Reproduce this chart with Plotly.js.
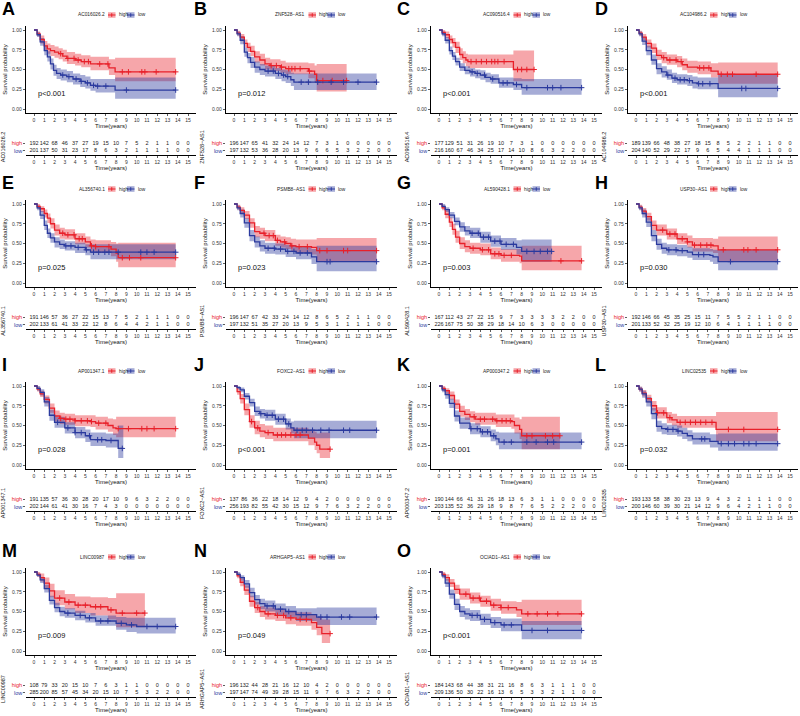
<!DOCTYPE html>
<html><head><meta charset="utf-8">
<script src="https://cdn.plot.ly/plotly-3.0.1.min.js"></script>
<style>html,body{margin:0;padding:0;background:#fff}#chart{width:800px;height:716px}</style>
</head><body><div id="chart"></div>
<script>
// ---------------- DATA ----------------
var panelIds = ['A','B','C','D','E','F','G','H','I','J','K','L','M','N','O'];
var genes = ['AC016026.2','ZNF528\u2212AS1','AC090516.4','AC104986.2','AL356740.1','PSMB8\u2212AS1','AL590428.1','USP30\u2212AS1','AP001347.1','FOXC2\u2212AS1','AP000347.2','LINC02535','LINC00987','ARHGAP5\u2212AS1','OCIAD1\u2212AS1'];
var pvals = ['p<0.001','p=0.012','p<0.001','p<0.001','p=0.025','p=0.023','p=0.003','p=0.030','p=0.028','p<0.001','p=0.001','p=0.032','p=0.009','p=0.049','p<0.001'];
var groups = ['high','low'];
var timeTicks = [0,1,2,3,4,5,6,7,8,9,10,11,12,13,14,15];
var survTicks = [0,0.25,0.5,0.75,1];
var survTickText = ['0.00','0.25','0.50','0.75','1.00'];

// A
var A_high_t=[0,0.3,0.6,1.0,1.3,1.6,2.0,2.4,2.8,3.2,4.0,4.6,5.5,7.3,7.9,13.8];
var A_high_s=[1,0.95,0.88,0.80,0.76,0.74,0.72,0.70,0.67,0.64,0.62,0.60,0.57,0.52,0.47,0.47];
var A_high_lo=[1,0.92,0.83,0.74,0.70,0.67,0.65,0.63,0.60,0.57,0.55,0.53,0.49,0.43,0.35,0.35];
var A_high_up=[1,0.98,0.93,0.86,0.83,0.81,0.79,0.77,0.75,0.72,0.70,0.68,0.66,0.63,0.65,0.65];
var A_high_cens=[2.6,3.3,3.9,4.3,4.9,5.3,6.4,7.2,8.6,9.2,10.5,10.8,11.9,13.8];
var A_low_t=[0,0.3,0.6,1.0,1.3,1.6,1.9,2.2,2.6,3.2,3.8,4.5,5.0,5.5,6.0,7.9,13.8];
var A_low_s=[1,0.94,0.85,0.74,0.66,0.57,0.49,0.45,0.43,0.41,0.38,0.35,0.33,0.30,0.29,0.24,0.24];
var A_low_lo=[1,0.91,0.80,0.68,0.60,0.50,0.42,0.38,0.36,0.34,0.31,0.28,0.26,0.23,0.21,0.13,0.13];
var A_low_up=[1,0.97,0.90,0.80,0.73,0.64,0.56,0.52,0.50,0.48,0.45,0.43,0.41,0.38,0.38,0.40,0.40];
var A_low_cens=[2.8,3.4,4.1,4.6,5.2,5.8,6.2,7.0,9.0,13.8];
var A_high_n=[192,142,68,46,37,27,19,15,10,7,5,2,1,1,0,0];
var A_low_n=[201,137,50,31,23,17,8,6,3,2,1,1,1,1,0,0];
// B
var B_high_t=[0,0.3,0.6,1.0,1.3,1.6,2.0,2.5,3.0,3.5,4.5,5.0,7.2,7.8,8.0,10.9];
var B_high_s=[1,0.96,0.91,0.83,0.78,0.73,0.66,0.62,0.57,0.55,0.53,0.51,0.48,0.44,0.36,0.36];
var B_high_lo=[1,0.93,0.87,0.78,0.72,0.67,0.59,0.55,0.50,0.48,0.46,0.44,0.39,0.34,0.22,0.22];
var B_high_up=[1,0.99,0.95,0.88,0.84,0.80,0.73,0.70,0.65,0.63,0.61,0.59,0.58,0.55,0.57,0.57];
var B_high_cens=[3.6,4.1,4.6,5.3,5.6,5.9,6.4,7.3,8.6,9.5,10.9];
var B_low_t=[0,0.3,0.6,1.0,1.3,1.6,2.0,2.5,3.0,4.0,4.6,5.0,5.5,5.8,13.8];
var B_low_s=[1,0.95,0.87,0.72,0.65,0.59,0.53,0.50,0.48,0.45,0.43,0.41,0.37,0.34,0.34];
var B_low_lo=[1,0.92,0.82,0.66,0.58,0.52,0.46,0.43,0.41,0.38,0.35,0.33,0.29,0.24,0.24];
var B_low_up=[1,0.98,0.92,0.78,0.71,0.66,0.60,0.57,0.55,0.52,0.50,0.49,0.46,0.45,0.45];
var B_low_cens=[3.3,3.8,4.3,4.8,5.2,6.5,7.2,8.1,9.4,10.6,12.0,13.8];
var B_high_n=[196,147,65,41,32,24,14,12,7,3,1,0,0,0,0,0];
var B_low_n=[197,132,53,36,28,20,13,9,6,6,5,3,2,2,0,0];
// C
var C_high_t=[0,0.3,0.6,1.0,1.3,1.6,2.0,2.3,2.6,2.8,7.2,9.2];
var C_high_s=[1,0.97,0.94,0.88,0.84,0.78,0.69,0.65,0.62,0.60,0.50,0.50];
var C_high_lo=[1,0.94,0.90,0.83,0.78,0.71,0.62,0.58,0.54,0.52,0.35,0.35];
var C_high_up=[1,1.0,0.98,0.93,0.90,0.85,0.77,0.73,0.70,0.69,0.74,0.74];
var C_high_cens=[3.1,3.6,4.1,4.6,5.1,5.4,5.7,6.3,7.6,8.0,8.5,9.2];
var C_low_t=[0,0.3,0.6,1.0,1.3,1.6,2.0,2.5,3.0,3.5,4.0,4.5,5.0,5.8,7.2,8.0,13.8];
var C_low_s=[1,0.95,0.87,0.74,0.67,0.60,0.53,0.49,0.47,0.45,0.43,0.40,0.38,0.33,0.31,0.27,0.27];
var C_low_lo=[1,0.92,0.83,0.69,0.62,0.55,0.48,0.44,0.41,0.39,0.37,0.34,0.32,0.27,0.24,0.18,0.18];
var C_low_up=[1,0.98,0.91,0.79,0.72,0.65,0.58,0.54,0.52,0.50,0.49,0.46,0.44,0.40,0.39,0.38,0.38];
var C_low_cens=[3.2,3.7,4.4,5.2,6.2,6.6,7.5,8.5,10.5,11.0,11.8,13.8];
var C_high_n=[177,129,51,31,26,19,10,7,3,1,0,0,0,0,0,0];
var C_low_n=[216,160,67,46,34,25,17,14,10,8,6,3,2,2,0,0];
// D
var D_high_t=[0,0.3,0.6,1.0,1.5,2.0,2.5,3.0,4.0,4.5,5.0,6.0,7.3,8.0,13.8];
var D_high_s=[1,0.96,0.91,0.83,0.77,0.68,0.65,0.62,0.60,0.56,0.53,0.52,0.48,0.44,0.44];
var D_high_lo=[1,0.93,0.87,0.78,0.71,0.62,0.58,0.56,0.53,0.49,0.46,0.44,0.40,0.32,0.32];
var D_high_up=[1,0.99,0.95,0.88,0.83,0.75,0.72,0.69,0.67,0.64,0.61,0.60,0.58,0.59,0.59];
var D_high_cens=[2.7,3.3,3.9,4.4,6.2,6.6,7.1,8.3,8.9,9.4,11.7,13.8];
var D_low_t=[0,0.3,0.6,1.0,1.5,2.0,2.5,3.0,3.5,4.0,5.0,5.5,6.0,8.0,13.8];
var D_low_s=[1,0.95,0.86,0.74,0.62,0.51,0.47,0.43,0.39,0.37,0.36,0.33,0.32,0.26,0.26];
var D_low_lo=[1,0.92,0.81,0.68,0.56,0.44,0.40,0.37,0.33,0.31,0.29,0.26,0.25,0.15,0.15];
var D_low_up=[1,0.98,0.91,0.80,0.69,0.58,0.54,0.50,0.46,0.44,0.43,0.41,0.40,0.43,0.43];
var D_low_cens=[3.1,3.8,4.3,4.7,5.2,6.1,6.5,7.2,10.3,10.7,13.8];
var D_high_n=[189,139,66,48,38,27,18,15,8,5,2,2,1,1,0,0];
var D_low_n=[204,140,52,29,22,17,9,6,5,4,4,1,1,1,0,0];
// E
var E_high_t=[0,0.3,0.6,1.0,1.3,1.6,2.0,2.5,3.0,4.0,5.0,5.5,6.0,7.5,8.0,8.2,13.8];
var E_high_s=[1,0.97,0.94,0.88,0.82,0.75,0.67,0.63,0.61,0.56,0.52,0.47,0.46,0.43,0.38,0.32,0.32];
var E_high_lo=[1,0.94,0.90,0.83,0.76,0.69,0.60,0.56,0.55,0.49,0.45,0.40,0.38,0.34,0.27,0.20,0.20];
var E_high_up=[1,1.0,0.97,0.93,0.88,0.82,0.74,0.70,0.68,0.63,0.59,0.55,0.54,0.52,0.50,0.51,0.51];
var E_high_cens=[2.8,3.3,3.9,4.4,4.7,5.6,6.0,7.3,8.6,9.3,10.4,13.8];
var E_low_t=[0,0.3,0.6,1.0,1.3,1.6,2.0,2.5,3.0,4.0,5.0,5.5,13.8];
var E_low_s=[1,0.95,0.86,0.73,0.63,0.57,0.52,0.49,0.47,0.45,0.42,0.39,0.39];
var E_low_lo=[1,0.92,0.81,0.67,0.57,0.51,0.45,0.43,0.41,0.38,0.35,0.30,0.30];
var E_low_up=[1,0.98,0.91,0.79,0.69,0.63,0.58,0.55,0.53,0.51,0.49,0.49,0.49];
var E_low_cens=[3.1,3.6,4.3,5.1,5.8,6.3,6.9,7.3,8.2,10.4,11.0,11.7,13.8];
var E_high_n=[191,146,57,36,27,22,15,13,7,5,2,1,1,1,0,0];
var E_low_n=[202,133,61,41,33,22,12,8,6,4,4,2,1,1,0,0];
// F
var F_high_t=[0,0.3,0.6,1.0,1.5,2.0,2.5,3.0,4.0,4.5,5.0,5.5,6.0,7.5,8.0,13.8];
var F_high_s=[1,0.96,0.92,0.86,0.76,0.65,0.63,0.60,0.54,0.52,0.50,0.47,0.46,0.45,0.41,0.41];
var F_high_lo=[1,0.93,0.88,0.81,0.70,0.58,0.56,0.53,0.47,0.45,0.43,0.40,0.38,0.36,0.28,0.28];
var F_high_up=[1,0.99,0.96,0.91,0.82,0.72,0.70,0.67,0.61,0.59,0.58,0.56,0.55,0.55,0.57,0.57];
var F_high_cens=[2.9,3.4,3.8,4.2,4.9,5.6,6.3,7.1,8.3,9.0,10.6,11.0,13.8];
var F_low_t=[0,0.3,0.6,1.0,1.5,2.0,2.5,3.0,4.0,5.0,6.0,7.5,8.0,13.8];
var F_low_s=[1,0.95,0.88,0.76,0.60,0.52,0.47,0.44,0.43,0.40,0.38,0.33,0.27,0.27];
var F_low_lo=[1,0.92,0.83,0.70,0.53,0.45,0.40,0.37,0.36,0.33,0.30,0.24,0.15,0.15];
var F_low_up=[1,0.98,0.93,0.82,0.67,0.59,0.54,0.51,0.50,0.48,0.46,0.43,0.47,0.47];
var F_low_cens=[3.3,3.9,4.5,5.2,5.8,6.4,7.1,9.0,9.3,13.8];
var F_high_n=[196,147,67,42,33,24,14,12,8,6,5,2,1,1,0,0];
var F_low_n=[197,132,51,35,27,20,13,9,5,3,1,1,1,1,0,0];
// G
var G_high_t=[0,0.3,0.6,1.0,1.3,1.6,2.0,2.5,3.0,4.0,5.0,6.0,7.8,8.0,13.8];
var G_high_s=[1,0.95,0.87,0.77,0.68,0.58,0.50,0.46,0.44,0.42,0.37,0.35,0.34,0.28,0.28];
var G_high_lo=[1,0.92,0.82,0.71,0.61,0.51,0.43,0.39,0.37,0.35,0.30,0.27,0.25,0.16,0.16];
var G_high_up=[1,0.98,0.92,0.83,0.75,0.66,0.58,0.54,0.51,0.50,0.45,0.43,0.43,0.47,0.47];
var G_high_cens=[3.3,4.2,4.8,5.4,5.8,6.3,7.0,11.8,13.8];
var G_low_t=[0,0.3,0.6,1.0,1.5,2.0,2.5,3.0,4.0,5.0,6.0,7.5,8.0,10.9];
var G_low_s=[1,0.97,0.93,0.86,0.78,0.71,0.66,0.63,0.58,0.53,0.49,0.45,0.40,0.40];
var G_low_lo=[1,0.95,0.90,0.82,0.73,0.65,0.60,0.57,0.51,0.46,0.42,0.36,0.27,0.27];
var G_low_up=[1,1.0,0.96,0.90,0.83,0.77,0.72,0.70,0.65,0.60,0.57,0.54,0.55,0.55];
var G_low_cens=[3.2,3.8,4.3,4.8,5.4,5.9,6.5,7.2,8.5,9.2,9.8,10.5,10.9];
var G_high_n=[167,112,43,27,22,15,9,7,3,3,3,3,2,2,0,0];
var G_low_n=[226,167,75,50,38,29,18,14,10,6,3,0,0,0,0,0];
// H
var H_high_t=[0,0.3,0.6,1.0,1.5,2.0,3.0,4.0,5.0,5.5,7.5,8.0,13.8];
var H_high_s=[1,0.96,0.91,0.84,0.73,0.67,0.62,0.56,0.52,0.48,0.47,0.42,0.42];
var H_high_lo=[1,0.93,0.87,0.79,0.67,0.60,0.55,0.49,0.45,0.40,0.38,0.28,0.28];
var H_high_up=[1,0.99,0.95,0.89,0.79,0.74,0.69,0.63,0.60,0.57,0.56,0.59,0.59];
var H_high_cens=[2.6,3.3,3.8,4.5,5.0,5.7,6.3,6.9,7.3,8.5,10.5,10.9,11.7,13.8];
var H_low_t=[0,0.3,0.6,1.0,1.5,2.0,2.5,3.0,4.0,5.0,5.5,7.2,7.5,8.0,13.8];
var H_low_s=[1,0.95,0.88,0.77,0.60,0.49,0.44,0.42,0.41,0.39,0.36,0.35,0.33,0.27,0.27];
var H_low_lo=[1,0.92,0.83,0.71,0.53,0.42,0.37,0.35,0.34,0.32,0.29,0.27,0.24,0.16,0.16];
var H_low_up=[1,0.98,0.93,0.83,0.67,0.56,0.51,0.49,0.48,0.46,0.44,0.43,0.42,0.42,0.42];
var H_low_cens=[3.2,3.9,4.5,6.1,6.6,9.2,13.8];
var H_high_n=[192,146,66,45,35,25,15,11,7,5,5,2,1,1,0,0];
var H_low_n=[201,133,52,32,25,19,12,10,6,4,1,1,1,1,0,0];
// I
var I_high_t=[0,0.3,0.6,1.0,1.5,2.0,2.5,3.0,4.0,5.5,6.0,7.2,7.7,8.0,13.8];
var I_high_s=[1,0.96,0.90,0.83,0.72,0.62,0.59,0.58,0.56,0.55,0.53,0.50,0.47,0.46,0.46];
var I_high_lo=[1,0.93,0.86,0.78,0.66,0.55,0.52,0.51,0.49,0.48,0.45,0.42,0.38,0.35,0.35];
var I_high_up=[1,0.99,0.94,0.88,0.78,0.69,0.66,0.65,0.63,0.63,0.61,0.59,0.58,0.61,0.61];
var I_high_cens=[2.6,3.1,3.5,4.0,4.6,5.2,5.6,6.3,7.0,8.2,9.2,10.5,11.0,11.7,13.8];
var I_low_t=[0,0.3,0.6,1.0,1.5,2.0,3.0,4.0,5.0,5.5,7.0,8.2,8.7];
var I_low_s=[1,0.97,0.92,0.80,0.63,0.54,0.47,0.41,0.37,0.32,0.31,0.21,0.21];
var I_low_lo=[1,0.94,0.88,0.74,0.56,0.47,0.40,0.34,0.29,0.24,0.22,0.09,0.09];
var I_low_up=[1,1.0,0.96,0.86,0.70,0.61,0.54,0.48,0.45,0.41,0.40,0.50,0.50];
var I_low_cens=[2.3,3.3,4.0,4.6,5.4,6.2,6.6,7.5,8.6];
var I_high_n=[191,135,57,36,30,28,20,17,10,9,6,3,2,2,0,0];
var I_low_n=[202,144,61,41,30,16,7,4,3,0,0,0,0,0,0,0];
// J
var J_high_t=[0,0.3,0.6,1.0,1.5,2.0,2.5,3.0,3.8,7.2,7.8,8.0,8.3,9.3];
var J_high_s=[1,0.93,0.84,0.70,0.55,0.47,0.43,0.41,0.38,0.34,0.29,0.25,0.20,0.20];
var J_high_lo=[1,0.89,0.78,0.63,0.47,0.39,0.35,0.33,0.30,0.25,0.19,0.15,0.09,0.09];
var J_high_up=[1,0.97,0.90,0.78,0.63,0.56,0.52,0.50,0.47,0.45,0.42,0.40,0.41,0.41];
var J_high_cens=[1.7,2.3,3.3,4.2,4.6,5.0,5.5,6.0,6.4,9.3];
var J_low_t=[0,0.3,0.6,1.0,1.5,2.0,2.5,3.0,4.0,5.0,5.5,5.8,13.8];
var J_low_s=[1,0.98,0.95,0.87,0.79,0.68,0.65,0.63,0.58,0.52,0.47,0.44,0.44];
var J_low_lo=[1,0.96,0.92,0.83,0.74,0.62,0.59,0.56,0.51,0.45,0.40,0.34,0.34];
var J_low_up=[1,1.0,0.98,0.91,0.84,0.74,0.71,0.70,0.65,0.59,0.55,0.56,0.56];
var J_low_cens=[2.6,3.2,3.7,4.3,4.8,5.3,6.1,6.6,7.0,7.6,8.4,9.2,10.6,11.2,13.8];
var J_high_n=[137,86,36,22,18,14,12,9,4,2,0,0,0,0,0,0];
var J_low_n=[256,193,82,55,42,30,15,12,9,7,6,3,2,2,0,0];
// K
var K_high_t=[0,0.3,0.6,1.0,1.5,2.0,2.5,3.0,3.5,5.5,7.0,7.3,7.8,8.0,11.7];
var K_high_s=[1,0.97,0.94,0.88,0.77,0.68,0.64,0.61,0.58,0.56,0.55,0.50,0.45,0.37,0.37];
var K_high_lo=[1,0.94,0.90,0.83,0.71,0.61,0.57,0.54,0.51,0.48,0.46,0.40,0.33,0.20,0.20];
var K_high_up=[1,1.0,0.97,0.93,0.83,0.75,0.71,0.68,0.66,0.64,0.64,0.60,0.58,0.61,0.61];
var K_high_cens=[3.4,4.0,4.4,5.2,5.6,6.1,6.5,6.9,8.5,9.0,10.3,11.0,11.7];
var K_low_t=[0,0.3,0.6,1.0,1.5,2.0,3.0,4.0,5.0,5.5,5.8,13.8];
var K_low_s=[1,0.95,0.89,0.78,0.62,0.53,0.46,0.42,0.37,0.33,0.29,0.29];
var K_low_lo=[1,0.92,0.84,0.72,0.55,0.46,0.39,0.35,0.30,0.25,0.20,0.20];
var K_low_up=[1,0.98,0.93,0.84,0.69,0.60,0.53,0.49,0.45,0.42,0.41,0.41];
var K_low_cens=[3.1,3.7,4.2,4.7,5.3,6.3,7.0,8.5,9.4,10.5,11.1,13.8];
var K_high_n=[190,144,66,41,31,26,18,13,6,3,1,1,0,0,0,0];
var K_low_n=[203,135,52,36,29,18,9,8,7,6,5,2,2,2,0,0];
// L
var L_high_t=[0,0.3,0.6,1.0,1.5,2.0,3.0,3.5,4.0,7.8,13.8];
var L_high_s=[1,0.96,0.91,0.84,0.75,0.66,0.60,0.57,0.54,0.45,0.45];
var L_high_lo=[1,0.93,0.87,0.79,0.69,0.59,0.53,0.50,0.47,0.30,0.30];
var L_high_up=[1,0.99,0.95,0.89,0.81,0.73,0.67,0.65,0.62,0.67,0.67];
var L_high_cens=[2.1,2.7,3.3,4.3,4.8,5.3,5.8,6.3,6.8,7.4,9.0,10.5,13.8];
var L_low_t=[0,0.3,0.6,1.0,1.5,2.0,2.5,3.0,4.0,4.5,5.0,5.5,7.2,8.0,13.8];
var L_low_s=[1,0.96,0.90,0.80,0.65,0.49,0.46,0.45,0.43,0.40,0.37,0.33,0.30,0.27,0.27];
var L_low_lo=[1,0.93,0.85,0.74,0.58,0.42,0.39,0.38,0.36,0.33,0.30,0.26,0.22,0.18,0.18];
var L_low_up=[1,0.99,0.94,0.86,0.72,0.56,0.53,0.51,0.50,0.47,0.44,0.41,0.39,0.40,0.40];
var L_low_cens=[3.1,3.6,4.1,6.4,6.7,8.3,9.0,9.6,10.5,11.0,11.7,13.8];
var L_high_n=[193,133,58,38,30,23,13,9,4,3,2,1,1,1,0,0];
var L_low_n=[200,146,60,39,30,21,14,12,9,6,4,2,1,1,0,0];
// M
var M_high_t=[0,0.3,0.6,1.0,1.5,2.0,3.0,4.0,5.5,7.2,8.0,10.8];
var M_high_s=[1,0.97,0.93,0.86,0.76,0.67,0.62,0.58,0.56,0.52,0.48,0.48];
var M_high_lo=[1,0.94,0.88,0.79,0.68,0.58,0.53,0.48,0.45,0.40,0.30,0.30];
var M_high_up=[1,1.0,0.98,0.93,0.85,0.77,0.72,0.69,0.68,0.67,0.73,0.73];
var M_high_cens=[2.5,3.4,4.3,5.0,6.0,6.5,7.5,8.6,10.0,10.8];
var M_low_t=[0,0.3,0.6,1.0,1.5,2.0,2.5,3.0,4.0,5.0,6.0,8.0,9.0,10.0,13.8];
var M_low_s=[1,0.96,0.90,0.79,0.64,0.55,0.50,0.48,0.45,0.42,0.38,0.35,0.33,0.31,0.31];
var M_low_lo=[1,0.94,0.86,0.74,0.59,0.49,0.44,0.42,0.39,0.36,0.32,0.27,0.24,0.22,0.22];
var M_low_up=[1,0.98,0.93,0.84,0.70,0.61,0.56,0.54,0.51,0.48,0.45,0.43,0.42,0.42,0.42];
var M_low_cens=[3.3,4.5,5.4,6.5,7.2,8.5,9.5,11.0,12.0,13.8];
var M_high_n=[108,79,33,20,15,10,7,6,3,1,1,0,0,0,0,0];
var M_low_n=[285,200,85,57,45,34,20,15,10,7,5,3,2,2,0,0];
// N
var N_high_t=[0,0.3,0.6,1.0,1.5,2.0,2.5,3.0,4.0,5.0,6.0,7.5,8.0,8.5,9.3];
var N_high_s=[1,0.95,0.87,0.77,0.63,0.55,0.50,0.47,0.45,0.42,0.40,0.36,0.30,0.22,0.22];
var N_high_lo=[1,0.92,0.82,0.71,0.56,0.48,0.43,0.40,0.38,0.34,0.32,0.27,0.20,0.10,0.10];
var N_high_up=[1,0.98,0.92,0.83,0.70,0.62,0.57,0.55,0.53,0.50,0.49,0.46,0.43,0.40,0.40];
var N_high_cens=[2.3,3.3,4.2,4.8,5.5,6.4,7.0,9.3];
var N_low_t=[0,0.3,0.6,1.0,1.5,2.0,2.5,3.0,4.0,5.0,6.0,8.0,13.8];
var N_low_s=[1,0.97,0.93,0.85,0.74,0.65,0.60,0.57,0.53,0.50,0.46,0.43,0.43];
var N_low_lo=[1,0.95,0.89,0.80,0.68,0.59,0.53,0.50,0.46,0.43,0.38,0.33,0.33];
var N_low_up=[1,1.0,0.96,0.90,0.80,0.71,0.66,0.64,0.60,0.57,0.54,0.55,0.55];
var N_low_cens=[3.2,3.8,4.5,5.3,6.5,7.0,8.4,9.0,10.4,11.2,13.8];
var N_high_n=[196,132,44,28,21,16,12,10,4,2,0,0,0,0,0,0];
var N_low_n=[197,147,74,49,39,28,15,11,9,7,6,3,2,2,0,0];
// O
var O_high_t=[0,0.3,0.6,1.0,1.5,2.0,3.0,4.0,5.0,6.0,7.5,8.0,13.8];
var O_high_s=[1,0.97,0.93,0.86,0.78,0.72,0.67,0.63,0.58,0.55,0.52,0.47,0.47];
var O_high_lo=[1,0.94,0.89,0.81,0.72,0.65,0.60,0.56,0.51,0.47,0.43,0.33,0.33];
var O_high_up=[1,1.0,0.97,0.91,0.84,0.79,0.74,0.70,0.66,0.63,0.62,0.65,0.65];
var O_high_cens=[2.6,3.3,3.9,4.6,5.3,6.0,6.7,8.6,9.5,10.5,11.5,13.8];
var O_low_t=[0,0.3,0.6,1.0,1.5,2.0,2.5,3.0,4.0,5.0,6.0,8.0,13.8];
var O_low_s=[1,0.95,0.86,0.72,0.59,0.50,0.47,0.45,0.40,0.36,0.33,0.26,0.26];
var O_low_lo=[1,0.92,0.81,0.66,0.52,0.43,0.40,0.38,0.33,0.29,0.25,0.15,0.15];
var O_low_up=[1,0.98,0.91,0.78,0.66,0.57,0.54,0.52,0.47,0.43,0.41,0.38,0.38];
var O_low_cens=[3.2,3.7,4.4,5.4,6.3,7.0,9.0,10.5,13.8];
var O_high_n=[184,143,68,44,38,31,21,16,8,6,3,1,1,1,0,0];
var O_low_n=[209,136,50,30,22,16,13,6,5,3,3,2,1,1,0,0];

// ---------------- STYLE / GEOMETRY ----------------
var FONT = 'Arial, "Liberation Sans", Helvetica, sans-serif';
var W = 800, H = 716;
var COLORS = {high: '#E8202A', low: '#2B3A9E'};
var BANDS = {high: 'rgba(232,32,42,0.40)', low: 'rgba(43,58,158,0.42)'};
var colX0 = [34, 234, 439, 636];     // pixel of t=0
var colX15 = [188, 389, 594, 790];   // pixel of t=15
var rowY1 = [30, 204, 386, 572];     // pixel of survival 1.00
var letterX = [0, 192, 395, 593];
var PXU = 79;                        // px per survival unit
function px(x) { return x / W; }
function py(y) { return 1 - y / H; }
function stepAt(t, s, x) { var v = s[0]; for (var i = 0; i < t.length; i++) { if (t[i] <= x) v = s[i]; } return v; }

var data = [], layout = {
  width: W, height: H, margin: {l: 0, r: 0, t: 0, b: 0},
  paper_bgcolor: '#fff', plot_bgcolor: 'rgba(0,0,0,0)',
  showlegend: false, font: {family: FONT, color: '#222'},
  annotations: [], shapes: []
};

panelIds.forEach(function (id, i) {
  var col = i % 4, row = Math.floor(i / 4);
  var a = 2 * i + 1, b = 2 * i + 2;
  var xa = 'x' + (a === 1 ? '' : a), ya = 'y' + (a === 1 ? '' : a);
  var xb = 'x' + b, yb = 'y' + b;
  var x0 = colX0[col], x15 = colX15[col], sc = (x15 - x0) / 15;
  var dl = x0 - 0.75 * sc, dr = x15 + 0.75 * sc;
  var y1 = rowY1[row];
  var plotTop = y1 - 0.05 * PXU, plotBot = y1 + 1.05 * PXU;
  var tabTop = y1 + 109.5, tabBot = y1 + 124.5;

  var axCommon = {showgrid: false, zeroline: false, showline: true, linecolor: '#000', linewidth: 1,
    ticks: 'outside', ticklen: 2.5, tickwidth: 0.8, tickcolor: '#333', fixedrange: true,
    tickfont: {family: FONT, size: 5, color: '#333'}};

  layout['xaxis' + (a === 1 ? '' : a)] = Object.assign({}, axCommon, {
    domain: [px(dl), px(dr)], range: [-0.75, 15.75], anchor: ya,
    tickmode: 'array', tickvals: timeTicks, ticktext: timeTicks.map(String),
    title: {text: 'Time(years)', font: {family: FONT, size: 6, color: '#111'}, standoff: 1}
  });
  layout['yaxis' + (a === 1 ? '' : a)] = Object.assign({}, axCommon, {
    domain: [py(plotBot), py(plotTop)], range: [-0.05, 1.05], anchor: xa,
    tickmode: 'array', tickvals: survTicks, ticktext: survTickText,
    title: {text: 'Survival probability', font: {family: FONT, size: 6, color: '#111'}, standoff: 3}
  });
  layout['xaxis' + b] = Object.assign({}, axCommon, {
    domain: [px(dl), px(dr)], range: [-0.75, 15.75], anchor: yb,
    tickmode: 'array', tickvals: timeTicks, ticktext: timeTicks.map(String),
    title: {text: 'Time(years)', font: {family: FONT, size: 6, color: '#111'}, standoff: 1}
  });
  layout['yaxis' + b] = Object.assign({}, axCommon, {
    domain: [py(tabBot), py(tabTop)], type: 'category', range: [-0.5, 1.5], anchor: xb,
    categoryorder: 'array', categoryarray: ['low', 'high'],
    showline: false, ticklen: 2,
    tickmode: 'array', tickvals: ['low', 'high'],
    ticktext: ['<span style="color:' + COLORS.low + '">low</span>', '<span style="color:' + COLORS.high + '">high</span>'],
    tickfont: {family: FONT, size: 5.5, color: '#333'},
    title: {text: genes[i], font: {family: FONT, size: 5.5, color: '#111'}, standoff: 6}
  });

  // bands first
  groups.forEach(function (g) {
    var t = window[id + '_' + g + '_t'];
    data.push({x: t, y: window[id + '_' + g + '_lo'], xaxis: xa, yaxis: ya, mode: 'lines',
      line: {width: 0, shape: 'hv', color: BANDS[g]}, hoverinfo: 'skip'});
    data.push({x: t, y: window[id + '_' + g + '_up'], xaxis: xa, yaxis: ya, mode: 'lines',
      line: {width: 0, shape: 'hv', color: BANDS[g]}, fill: 'tonexty', fillcolor: BANDS[g], hoverinfo: 'skip'});
  });
  // lines + censor marks
  groups.forEach(function (g) {
    var t = window[id + '_' + g + '_t'], s = window[id + '_' + g + '_s'], c = window[id + '_' + g + '_cens'];
    data.push({x: t, y: s, xaxis: xa, yaxis: ya, mode: 'lines', name: g,
      line: {width: 1.3, shape: 'hv', color: COLORS[g]}});
    data.push({x: c, y: c.map(function (v) { return stepAt(t, s, v); }), xaxis: xa, yaxis: ya, mode: 'markers',
      marker: {symbol: 'cross-thin', size: 4, color: COLORS[g], line: {width: 1, color: COLORS[g]}}, hoverinfo: 'skip'});
  });
  // risk table
  groups.forEach(function (g) {
    var n = window[id + '_' + g + '_n'];
    data.push({x: timeTicks, y: timeTicks.map(function () { return g; }), xaxis: xb, yaxis: yb,
      mode: 'text', text: n.map(String), textfont: {family: FONT, size: 5.5, color: '#222'},
      cliponaxis: false, hoverinfo: 'skip'});
  });

  // p-value
  layout.annotations.push({xref: xa, yref: ya, x: 0.15, y: 0.2, xanchor: 'left', yanchor: 'middle',
    text: pvals[i], showarrow: false, font: {family: FONT, size: 7.5, color: '#111'}});
  // panel letter
  layout.annotations.push({xref: 'paper', yref: 'paper', x: px(letterX[col]), y: py(y1 - 21), xanchor: 'left', yanchor: 'middle',
    text: '<b>' + id + '</b>', showarrow: false, font: {family: FONT, size: 18, color: '#000'}});
  // legend
  var cx = (dl + dr) / 2, ly = y1 - 15;
  layout.annotations.push({xref: 'paper', yref: 'paper', x: px(cx - 4.5), y: py(ly), xanchor: 'right', yanchor: 'middle',
    text: genes[i], showarrow: false, font: {family: FONT, size: 4.8, color: '#222'}});
  var items = [{g: 'high', bx: cx - 3, tx: cx + 5.5}, {g: 'low', bx: cx + 16, tx: cx + 24.5}];
  items.forEach(function (it) {
    layout.shapes.push({type: 'rect', xref: 'paper', yref: 'paper', x0: px(it.bx), x1: px(it.bx + 7.5),
      y0: py(ly + 2.8), y1: py(ly - 2.8), fillcolor: BANDS[it.g], line: {width: 0}});
    layout.shapes.push({type: 'line', xref: 'paper', yref: 'paper', x0: px(it.bx), x1: px(it.bx + 7.5),
      y0: py(ly), y1: py(ly), line: {width: 1, color: COLORS[it.g]}});
    layout.shapes.push({type: 'line', xref: 'paper', yref: 'paper', x0: px(it.bx + 3.75), x1: px(it.bx + 3.75),
      y0: py(ly + 1.8), y1: py(ly - 1.8), line: {width: 1, color: COLORS[it.g]}});
    layout.annotations.push({xref: 'paper', yref: 'paper', x: px(it.tx), y: py(ly), xanchor: 'left', yanchor: 'middle',
      text: it.g, showarrow: false, font: {family: FONT, size: 4.8, color: '#222'}});
  });
});

Plotly.newPlot('chart', data, layout, {displayModeBar: false, staticPlot: true});
</script></body></html>
